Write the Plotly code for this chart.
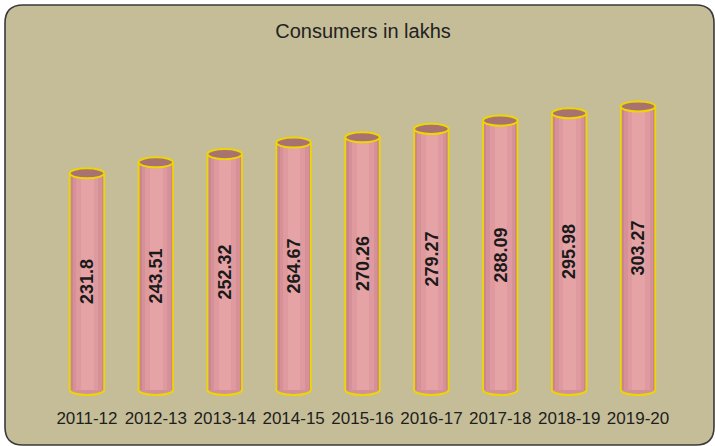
import plotly.graph_objects as go

categories = ["2011-12", "2012-13", "2013-14", "2014-15", "2015-16",
              "2016-17", "2017-18", "2018-19", "2019-20"]
consumers = [231.8, 243.51, 252.32, 264.67, 270.26, 279.27, 288.09, 295.98, 303.27]
title_text = "Consumers in lakhs"

W, H = 715, 446
BASE_PX = 390.0        # pixel row of value 0
PX_PER_UNIT = 0.935
YMIN, YMAX = -8, 332
X_LEFT_PX, X_RIGHT_PX = 52.5, 672.5
BAR_W = 0.5
CAP = 5.4              # half height of ellipse caps, in data units
YELLOW = "#EED600"
FONT = "Arial, Liberation Sans, sans-serif"

fig = go.Figure()

# cylinder body: layered bars give a soft cylindrical shading
for w, c in [(0.50, "#C8868F"), (0.42, "#D69098"), (0.32, "#DF9AA0"), (0.18, "#E6A3A6")]:
    fig.add_bar(x=categories, y=consumers, width=w,
                marker=dict(color=c, line=dict(width=0)),
                hoverinfo="skip", showlegend=False)

# value labels
fig.add_bar(x=categories, y=consumers, width=BAR_W,
            marker=dict(color="rgba(0,0,0,0)", line=dict(width=0)),
            text=[str(v) for v in consumers], textposition="inside",
            insidetextanchor="middle", textangle=-90, constraintext="none",
            textfont=dict(family=FONT, size=18, color="#1a1a1a", weight="bold"),
            hoverinfo="skip", showlegend=False)

shapes = []

# rounded background panel (paper coords == whole figure since margins are 0)
def px(x, y):
    return x / W, 1 - y / H

l, t, r, b, rad = 5, 5, 714, 445, 18
pts = {
    "a": px(l + rad, t), "b": px(r - rad, t), "c": px(r, t), "d": px(r, t + rad),
    "e": px(r, b - rad), "f": px(r, b), "g": px(r - rad, b), "h": px(l + rad, b),
    "i": px(l, b), "j": px(l, b - rad), "k": px(l, t + rad), "m": px(l, t),
}
def f(p):
    return f"{p[0]:.5f},{p[1]:.5f}"
path = (f"M{f(pts['a'])} L{f(pts['b'])} Q{f(pts['c'])} {f(pts['d'])} "
        f"L{f(pts['e'])} Q{f(pts['f'])} {f(pts['g'])} L{f(pts['h'])} "
        f"Q{f(pts['i'])} {f(pts['j'])} L{f(pts['k'])} Q{f(pts['m'])} {f(pts['a'])} Z")
shapes.append(dict(type="path", xref="paper", yref="paper", path=path,
                   fillcolor="#C5BD97", line=dict(color="#3a3a3a", width=1.6),
                   layer="below"))

half = BAR_W / 2
for i, v in enumerate(consumers):
    # bottom ellipse (upper half hidden by the bar)
    shapes.append(dict(type="circle", xref="x", yref="y",
                       x0=i - half, x1=i + half, y0=-CAP, y1=CAP,
                       fillcolor="#D2909A", line=dict(color=YELLOW, width=2),
                       layer="below"))
    # side outlines
    for xs in (i - half, i + half):
        shapes.append(dict(type="line", xref="x", yref="y",
                           x0=xs, x1=xs, y0=0, y1=v,
                           line=dict(color=YELLOW, width=1.8), layer="above"))
    # top cap
    shapes.append(dict(type="circle", xref="x", yref="y",
                       x0=i - half, x1=i + half, y0=v - CAP, y1=v + CAP,
                       fillcolor="#A87270", line=dict(color=YELLOW, width=2),
                       layer="above"))

y_bottom_px = BASE_PX - YMIN * PX_PER_UNIT
y_top_px = BASE_PX - YMAX * PX_PER_UNIT

fig.update_layout(
    width=W, height=H,
    margin=dict(l=0, r=0, t=0, b=0),
    paper_bgcolor="white",
    plot_bgcolor="rgba(0,0,0,0)",
    barmode="overlay",
    bargap=0,
    shapes=shapes,
    showlegend=False,
    title=dict(text=title_text, x=363 / W, xanchor="center",
               y=1 - 31 / H, yanchor="middle",
               font=dict(family=FONT, size=20, color="#222222")),
    xaxis=dict(type="category", categoryorder="array", categoryarray=categories,
               domain=[X_LEFT_PX / W, X_RIGHT_PX / W], range=[-0.5, 8.5],
               showgrid=False, zeroline=False, showline=False,
               ticks="outside", ticklen=5, tickcolor="rgba(0,0,0,0)",
               tickfont=dict(family=FONT, size=17, color="#1e1e1e")),
    yaxis=dict(domain=[1 - y_bottom_px / H, 1 - y_top_px / H],
               range=[YMIN, YMAX], showgrid=False, zeroline=False,
               showline=False, showticklabels=False, ticks=""),
)

fig.write_html("out.html", config={"displayModeBar": False},
               post_script="document.body.style.margin='0';document.body.style.overflow='hidden';")
